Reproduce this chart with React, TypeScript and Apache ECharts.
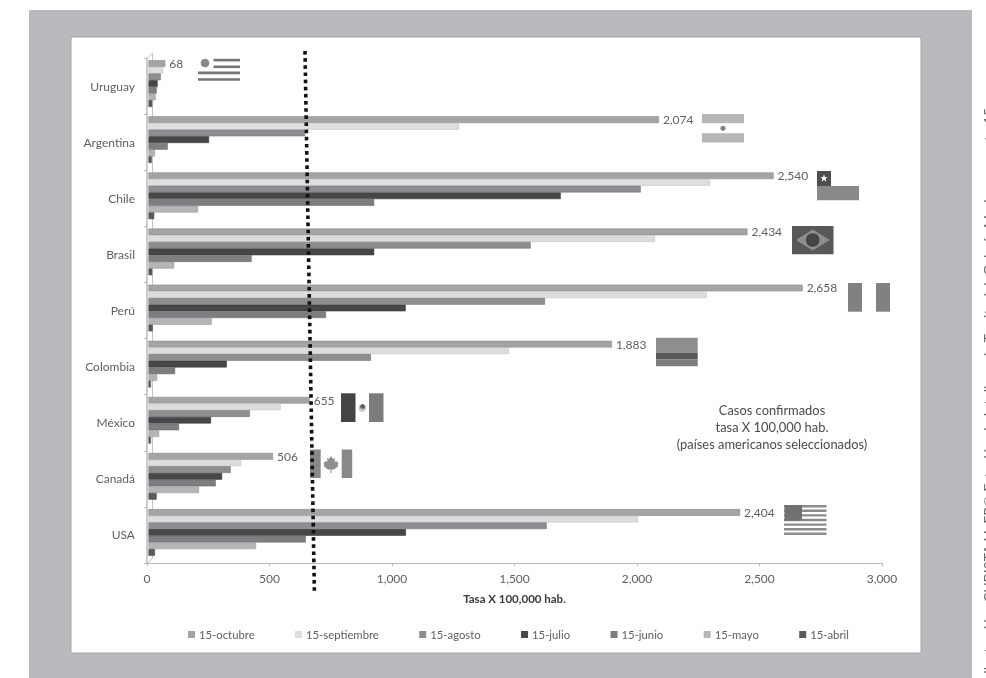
import React, { useEffect, useRef } from "react";
import * as echarts from "echarts";

const categories = ["Uruguay", "Argentina", "Chile", "Brasil", "Perú", "Colombia", "México", "Canadá", "USA"];
const seriesNames = ["15-octubre", "15-septiembre", "15-agosto", "15-julio", "15-junio", "15-mayo", "15-abril"];
const octubre = [68, 2074, 2540, 2434, 2658, 1883, 655, 506, 2404];
const septiembre = [60, 1262, 2282, 2058, 2268, 1464, 537, 376, 1989];
const agosto = [50, 636, 2000, 1553, 1611, 904, 412, 334, 1618];
const julio = [37, 246, 1675, 917, 1045, 318, 254, 299, 1046];
const junio = [33, 78, 917, 419, 721, 108, 124, 273, 639];
const mayo = [29, 26, 201, 104, 257, 35, 43, 205, 437];
const abril = [15, 13, 23, 15, 17, 10, 10, 33, 26];
const seriesValues = [octubre, septiembre, agosto, julio, junio, mayo, abril];
const seriesColors = ["#a3a4a6", "#dcdddf", "#8d8e90", "#47474a", "#7d7e80", "#b4b5b7", "#5b5b5e"];
const seriesEdges = ["#7f8082", "#bdbec0", "#6c6d6f", "#2e2e30", "#5f6062", "#8d8e90", "#3f3f41"];
const annotationLines = ["Casos confirmados", "tasa X 100,000 hab.", "(países americanos seleccionados)"];
const sideCredit = "Ilustración: CUBISTA LL FP© Estación de Inteligencia Territorial. Galería Mariano, agosto 15";

const FONT = "Lato";
const TEXT = "#606062";

const rect = (x: number, y: number, w: number, h: number, fill: string, z = 30) => ({
  type: "rect", z, silent: true, shape: { x, y, width: w, height: h }, style: { fill },
});
const circle = (cx: number, cy: number, r: number, fill: string) => ({
  type: "circle", z: 30, silent: true, shape: { cx, cy, r }, style: { fill },
});
const poly = (points: number[][], fill: string) => ({
  type: "polygon", z: 30, silent: true, shape: { points }, style: { fill },
});

const mapleLeaf = [
  [331, 456], [333, 459], [335, 458], [334.5, 462], [336, 461], [338.5, 463], [337.5, 465], [338.5, 466],
  [334, 469.5], [331.5, 469.5], [331.5, 473], [330.5, 473], [330.5, 469.5], [328, 469.5], [323.5, 466],
  [324.5, 465], [323.5, 463], [326, 461], [327.5, 462], [327, 458], [329, 459],
];

const usaStripes = [505, 509.6, 514.2, 518.8, 523.4, 528, 532.6];
const GREY = "#87888a";

function flags() {
  return [
    // Uruguay
    circle(205, 63, 4.3, "#88898b"),
    rect(213.5, 58.8, 26.5, 2.6, "#737476"),
    rect(213.5, 65.5, 26.5, 2.6, "#737476"),
    rect(198, 71.6, 42, 2.6, "#737476"),
    rect(198, 78.2, 42, 2.6, "#737476"),
    // Argentina
    rect(702, 114, 42, 9.3, "#b5b6b8"),
    rect(702, 133.3, 42, 9.2, "#b5b6b8"),
    circle(723, 128.3, 2.6, "#808183"),
    // Chile
    rect(817, 171, 14, 15, "#4e4e51"),
    rect(817, 186, 42, 14.3, "#89898c"),
    {
      type: "polygon", z: 31, silent: true,
      shape: { points: [[824, 174.5], [825, 177.3], [827.6, 177.3], [825.5, 179], [826.3, 181.6], [824, 180], [821.7, 181.6], [822.5, 179], [820.4, 177.3], [823, 177.3]] },
      style: { fill: "#ffffff" },
    },
    // Brasil
    rect(792, 226, 41.5, 28.3, "#58585b"),
    poly([[796, 240], [812.7, 229.5], [829.7, 240], [812.7, 250.5]], "#8e8f91"),
    circle(812.7, 240, 6.8, "#454548"),
    // Perú
    rect(848, 283, 14, 28.7, "#808183"),
    rect(876, 283, 14, 28.7, "#808183"),
    // Colombia
    rect(656, 337.7, 41.7, 14.8, "#8d8e90"),
    rect(656, 352.5, 41.7, 7, "#59595b"),
    rect(656, 359.5, 41.7, 6.7, "#7b7c7e"),
    // México
    rect(341, 393.3, 14.5, 28.7, "#444447"),
    rect(369, 393.3, 14.5, 28.7, "#7b7c7e"),
    circle(362.3, 408, 3.8, "#c4c5c7"),
    circle(362.6, 406.5, 2.4, "#606062"),
    // Canadá
    rect(310, 449.5, 10.7, 28.5, GREY),
    rect(341.7, 449.5, 10.5, 28.5, GREY),
    poly(mapleLeaf, "#8e8f91"),
    // USA
    ...usaStripes.map((y) => rect(784, y, 42.5, 2.4, "#8a8b8d")),
    rect(784.5, 505, 17.5, 15.5, "#707173", 31),
  ];
}

function buildOption() {
  return {
    animation: false,
    backgroundColor: "#ffffff",
    textStyle: { fontFamily: FONT },
    grid: [
      { left: 147, top: 58, width: 735, height: 505 },
      { left: 148.5, top: 55.5, width: 738.3, height: 505 },
    ],
    xAxis: [
      {
        type: "value", gridIndex: 0, min: 0, max: 3000, interval: 500, position: "bottom",
        name: "Tasa X 100,000 hab.", nameLocation: "middle", nameGap: 29,
        nameTextStyle: { fontFamily: FONT, fontSize: 11.5, fontWeight: "bold", color: "#3a3a3c" },
        axisLine: { show: true, lineStyle: { color: "#b9babc", width: 1.2 } },
        axisTick: { show: true, length: 3, lineStyle: { color: "#b9babc" } },
        axisLabel: { fontFamily: FONT, fontSize: 12, color: TEXT, margin: 9 },
        splitLine: { show: false },
      },
      { type: "value", gridIndex: 1, min: 0, max: 3000, show: false, splitLine: { show: false } },
    ],
    yAxis: [
      {
        type: "category", gridIndex: 0, inverse: true, data: categories,
        axisLine: { show: true, lineStyle: { color: "#b9babc", width: 1.5 } },
        axisTick: { show: true, length: 3, lineStyle: { color: "#b9babc" } },
        axisLabel: { fontFamily: FONT, fontSize: 12, color: TEXT, margin: 12 },
      },
      { type: "category", gridIndex: 1, inverse: true, data: categories, show: false },
    ],
    legend: {
      left: 188, top: 629, padding: 0, itemWidth: 7, itemHeight: 7, itemGap: 40.4, icon: "rect",
      data: seriesNames,
      itemStyle: { borderWidth: 0 },
      textStyle: { fontFamily: FONT, fontSize: 11.3, color: TEXT, padding: [0, 0, 0, -1] },
    },
    series: seriesNames.map((name, i) => ({
      name, type: "bar", xAxisIndex: 1, yAxisIndex: 1,
      data: seriesValues[i], barWidth: 6.67, barGap: 0,
      itemStyle: { color: seriesColors[i], borderColor: seriesEdges[i], borderWidth: 0.5 },
      label: i === 0
        ? {
            show: true, position: "right", distance: 4, fontFamily: FONT, fontSize: 12, color: TEXT,
            formatter: (p: { value: number }) => p.value.toLocaleString("en-US"),
          }
        : { show: false },
    })),
    graphic: [
      rect(29, 10, 943, 668, "#b9babd", -20),
      {
        type: "rect", z: -19, silent: true,
        shape: { x: 71, y: 37, width: 850, height: 616 },
        style: { fill: "#ffffff", stroke: "#a3a4a6", lineWidth: 1 },
      },
      {
        type: "polyline", z: 0, silent: true,
        shape: { points: [[148, 58], [152.5, 53], [152.5, 558], [148, 563]] },
        style: { stroke: "#c4c5c7", lineWidth: 1, fill: "none" },
      },
      ...flags(),
      {
        type: "line", z: 40, silent: true,
        shape: { x1: 305, y1: 51, x2: 314.4, y2: 592 },
        style: { stroke: "#111113", lineWidth: 3.6, lineDash: [3.6, 3.55] },
      },
      {
        type: "text", z: 40, silent: true, x: 772, y: 427,
        style: {
          text: annotationLines.join("\n"), fontFamily: FONT, fontSize: 12.9, lineHeight: 17,
          fill: "#4a4a4c", align: "center", verticalAlign: "middle",
        },
      },
      {
        type: "text", z: 40, silent: true, x: 988.5, y: 391, rotation: Math.PI / 2,
        style: {
          text: sideCredit, fontFamily: FONT, fontSize: 14.2, fill: "#6a6a6c",
          align: "center", verticalAlign: "middle",
        },
      },
    ],
  };
}

export default function App() {
  const ref = useRef<HTMLDivElement>(null);
  useEffect(() => {
    if (!ref.current) return;
    const chart = echarts.init(ref.current, undefined, { renderer: "svg" });
    chart.setOption(buildOption() as any);
    return () => chart.dispose();
  }, []);
  return (
    <div
      ref={ref}
      style={{ position: "fixed", left: 0, top: 0, width: 986, height: 678, filter: "blur(0.5px)" }}
    />
  );
}
